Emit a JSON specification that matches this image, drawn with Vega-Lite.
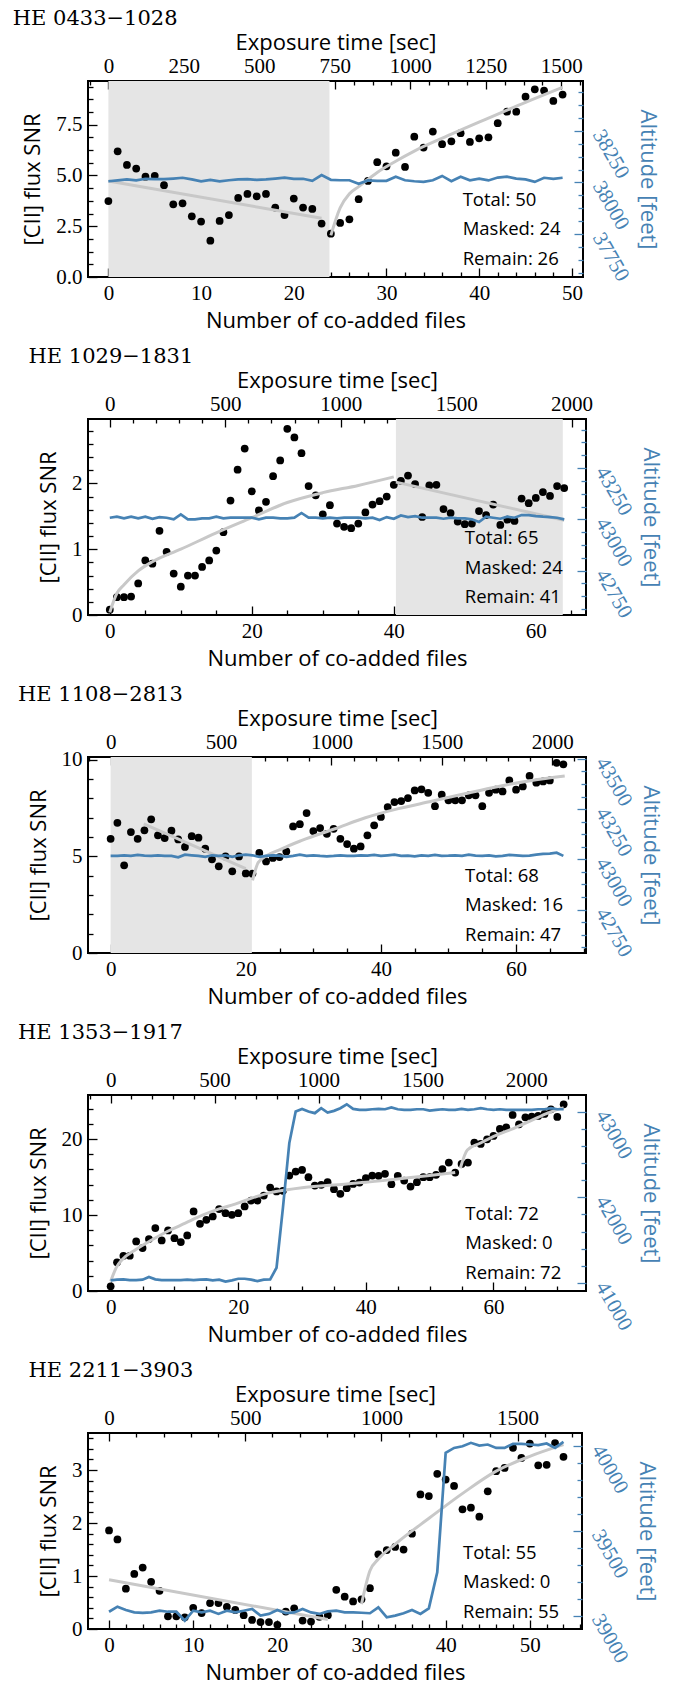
{
 "$schema": "https://vega.github.io/schema/vega-lite/v6.json",
 "background": "white",
 "padding": {"left": 11, "top": 6, "right": 4, "bottom": 2},
 "spacing": 12,
 "datasets": {
  "p1": [
   {"n":0,"snr":3.74,"alt":38006},{"n":1,"snr":6.19,"alt":38010},{"n":2,"snr":5.52,"alt":38015},{"n":3,"snr":5.34,"alt":38010},{"n":4,"snr":4.94,"alt":38018},
   {"n":5,"snr":4.98,"alt":38016},{"n":6,"snr":4.52,"alt":38016},{"n":7,"snr":3.58,"alt":38019},{"n":8,"snr":3.63,"alt":38023},{"n":9,"snr":2.99,"alt":38015},
   {"n":10,"snr":2.73,"alt":38006},{"n":11,"snr":1.79,"alt":38013},{"n":12,"snr":2.76,"alt":38006},{"n":13,"snr":3.05,"alt":38011},{"n":14,"snr":3.89,"alt":38015},
   {"n":15,"snr":4.09,"alt":38016},{"n":16,"snr":3.97,"alt":38013},{"n":17,"snr":4.09,"alt":38015},{"n":18,"snr":3.42,"alt":38019},{"n":19,"snr":3.05,"alt":38024},
   {"n":20,"snr":3.86,"alt":38018},{"n":21,"snr":3.42,"alt":38018},{"n":22,"snr":3.35,"alt":38008},{"n":23,"snr":2.63,"alt":38036},{"n":24,"snr":2.13,"alt":38013},
   {"n":25,"snr":2.66,"alt":38011},{"n":26,"snr":2.84,"alt":38011},{"n":27,"snr":3.83,"alt":37994},{"n":28,"snr":4.73,"alt":38010},{"n":29,"snr":5.65,"alt":38008},
   {"n":30,"snr":5.45,"alt":38008},{"n":31,"snr":6.12,"alt":38028},{"n":32,"snr":5.42,"alt":38011},{"n":33,"snr":6.91,"alt":38006},{"n":34,"snr":6.37,"alt":38003},
   {"n":35,"snr":7.16,"alt":38011},{"n":36,"snr":6.54,"alt":38032},{"n":37,"snr":6.68,"alt":38006},{"n":38,"snr":7.08,"alt":38028},{"n":39,"snr":6.65,"alt":38011},
   {"n":40,"snr":6.83,"alt":38019},{"n":41,"snr":6.88,"alt":38010},{"n":42,"snr":7.57,"alt":38024},{"n":43,"snr":8.14,"alt":38028},{"n":44,"snr":8.14,"alt":38019},
   {"n":45,"snr":8.88,"alt":38015},{"n":46,"snr":9.24,"alt":38003},{"n":47,"snr":9.18,"alt":38023},{"n":48,"snr":8.67,"alt":38018},{"n":49,"snr":8.98,"alt":38023}
  ],
  "p1fit": [
   {"n":0,"fit":4.73,"seg":"a"},{"n":23,"fit":2.89,"seg":"a"},
   {"n":24,"fit":2.05,"seg":"b"},{"n":25,"fit":3.4,"seg":"b"},{"n":26,"fit":4.1,"seg":"b"},{"n":27,"fit":4.45,"seg":"b"},{"n":29,"fit":5.15,"seg":"b"},
   {"n":31,"fit":5.7,"seg":"b"},{"n":33,"fit":6.2,"seg":"b"},{"n":37,"fit":7.03,"seg":"b"},{"n":41,"fit":7.82,"seg":"b"},{"n":45,"fit":8.6,"seg":"b"},{"n":49,"fit":9.34,"seg":"b"}
  ],
  "p2": [
   {"n":0,"snr":0.08,"alt":43008},{"n":1,"snr":0.27,"alt":43013},{"n":2,"snr":0.27,"alt":43005},{"n":3,"snr":0.28,"alt":43013},{"n":4,"snr":0.48,"alt":43005},
   {"n":5,"snr":0.83,"alt":43013},{"n":6,"snr":0.78,"alt":43003},{"n":7,"snr":1.28,"alt":43011},{"n":8,"snr":0.96,"alt":43008},{"n":9,"snr":0.63,"alt":43000},
   {"n":10,"snr":0.43,"alt":43024},{"n":11,"snr":0.60,"alt":43000},{"n":12,"snr":0.60,"alt":43000},{"n":13,"snr":0.73,"alt":43005},{"n":14,"snr":0.83,"alt":43005},
   {"n":15,"snr":0.98,"alt":43013},{"n":16,"snr":1.26,"alt":43005},{"n":17,"snr":1.74,"alt":43008},{"n":18,"snr":2.21,"alt":43008},{"n":19,"snr":2.53,"alt":43008},
   {"n":20,"snr":1.88,"alt":43008},{"n":21,"snr":1.59,"alt":43000},{"n":22,"snr":1.72,"alt":43008},{"n":23,"snr":2.11,"alt":43008},{"n":24,"snr":2.35,"alt":43005},
   {"n":25,"snr":2.83,"alt":43005},{"n":26,"snr":2.70,"alt":43008},{"n":27,"snr":2.46,"alt":43031},{"n":28,"snr":1.96,"alt":43008},{"n":29,"snr":1.82,"alt":43008},
   {"n":30,"snr":1.53,"alt":43005},{"n":31,"snr":1.67,"alt":43008},{"n":32,"snr":1.39,"alt":43005},{"n":33,"snr":1.34,"alt":43008},{"n":34,"snr":1.32,"alt":43008},
   {"n":35,"snr":1.39,"alt":43008},{"n":36,"snr":1.56,"alt":43005},{"n":37,"snr":1.68,"alt":43008},{"n":38,"snr":1.73,"alt":42997},{"n":39,"snr":1.80,"alt":43011},
   {"n":40,"snr":1.98,"alt":43003},{"n":41,"snr":2.04,"alt":43019},{"n":42,"snr":2.12,"alt":43011},{"n":43,"snr":1.99,"alt":43016},{"n":44,"snr":1.49,"alt":43008},
   {"n":45,"snr":1.97,"alt":43008},{"n":46,"snr":1.98,"alt":43008},{"n":47,"snr":1.61,"alt":43003},{"n":48,"snr":1.55,"alt":43008},{"n":49,"snr":1.42,"alt":43005},
   {"n":50,"snr":1.38,"alt":43005},{"n":51,"snr":1.39,"alt":43000},{"n":52,"snr":1.58,"alt":42987},{"n":53,"snr":1.52,"alt":43013},{"n":54,"snr":1.68,"alt":43008},
   {"n":55,"snr":1.37,"alt":43003},{"n":56,"snr":1.45,"alt":43013},{"n":57,"snr":1.43,"alt":43008},{"n":58,"snr":1.77,"alt":43021},{"n":59,"snr":1.70,"alt":43021},
   {"n":60,"snr":1.78,"alt":43016},{"n":61,"snr":1.87,"alt":43013},{"n":62,"snr":1.81,"alt":43011},{"n":63,"snr":1.96,"alt":43008},{"n":64,"snr":1.93,"alt":43000}
  ],
  "p2fit": [
   {"n":0,"fit":0.04,"seg":"a"},{"n":1,"fit":0.33,"seg":"a"},{"n":2,"fit":0.46,"seg":"a"},{"n":4,"fit":0.67,"seg":"a"},{"n":6,"fit":0.81,"seg":"a"},
   {"n":10,"fit":1.0,"seg":"a"},{"n":15,"fit":1.25,"seg":"a"},{"n":20,"fit":1.48,"seg":"a"},{"n":25,"fit":1.71,"seg":"a"},{"n":30,"fit":1.86,"seg":"a"},
   {"n":35,"fit":1.97,"seg":"a"},{"n":40,"fit":2.1,"seg":"a"},
   {"n":40.3,"fit":2.02,"seg":"b"},{"n":64,"fit":1.44,"seg":"b"}
  ],
  "p3": [
   {"n":0,"snr":5.90,"alt":43017},{"n":1,"snr":6.73,"alt":43017},{"n":2,"snr":4.53,"alt":43020},{"n":3,"snr":6.25,"alt":43017},{"n":4,"snr":5.90,"alt":43022},
   {"n":5,"snr":6.34,"alt":43018},{"n":6,"snr":6.91,"alt":43017},{"n":7,"snr":6.08,"alt":43020},{"n":8,"snr":5.94,"alt":43017},{"n":9,"snr":6.32,"alt":43017},
   {"n":10,"snr":5.87,"alt":43010},{"n":11,"snr":5.48,"alt":43023},{"n":12,"snr":6.04,"alt":43020},{"n":13,"snr":5.96,"alt":43017},{"n":14,"snr":5.39,"alt":43012},
   {"n":15,"snr":4.84,"alt":43020},{"n":16,"snr":4.48,"alt":43017},{"n":17,"snr":4.99,"alt":43020},{"n":18,"snr":4.22,"alt":43012},{"n":19,"snr":4.99,"alt":43020},
   {"n":20,"snr":4.11,"alt":43023},{"n":21,"snr":4.10,"alt":43020},{"n":22,"snr":5.17,"alt":43012},{"n":23,"snr":4.73,"alt":43017},{"n":24,"snr":4.91,"alt":43020},
   {"n":25,"snr":4.96,"alt":43018},{"n":26,"snr":5.25,"alt":43012},{"n":27,"snr":6.54,"alt":43017},{"n":28,"snr":6.66,"alt":43023},{"n":29,"snr":7.23,"alt":43017},
   {"n":30,"snr":6.30,"alt":43020},{"n":31,"snr":6.46,"alt":43017},{"n":32,"snr":6.16,"alt":43015},{"n":33,"snr":6.42,"alt":43017},{"n":34,"snr":5.90,"alt":43020},
   {"n":35,"snr":5.63,"alt":43017},{"n":36,"snr":5.39,"alt":43017},{"n":37,"snr":5.51,"alt":43020},{"n":38,"snr":6.08,"alt":43018},{"n":39,"snr":6.60,"alt":43022},
   {"n":40,"snr":7.03,"alt":43017},{"n":41,"snr":7.54,"alt":43020},{"n":42,"snr":7.80,"alt":43023},{"n":43,"snr":7.85,"alt":43017},{"n":44,"snr":8.01,"alt":43018},
   {"n":45,"snr":8.40,"alt":43015},{"n":46,"snr":8.46,"alt":43020},{"n":47,"snr":8.28,"alt":43017},{"n":48,"snr":7.59,"alt":43022},{"n":49,"snr":8.18,"alt":43017},
   {"n":50,"snr":7.89,"alt":43018},{"n":51,"snr":7.89,"alt":43020},{"n":52,"snr":7.89,"alt":43017},{"n":53,"snr":8.15,"alt":43023},{"n":54,"snr":8.15,"alt":43018},
   {"n":55,"snr":7.59,"alt":43017},{"n":56,"snr":8.28,"alt":43020},{"n":57,"snr":8.44,"alt":43015},{"n":58,"snr":8.35,"alt":43017},{"n":59,"snr":8.92,"alt":43022},
   {"n":60,"snr":8.44,"alt":43020},{"n":61,"snr":8.61,"alt":43017},{"n":62,"snr":9.15,"alt":43018},{"n":63,"snr":8.80,"alt":43023},{"n":64,"snr":8.87,"alt":43027},
   {"n":65,"snr":8.92,"alt":43028},{"n":66,"snr":9.83,"alt":43033},{"n":67,"snr":9.75,"alt":43017}
  ],
  "p3fit": [
   {"n":4.9,"fit":6.68,"seg":"a"},{"n":20,"fit":4.36,"seg":"a"},
   {"n":21,"fit":3.75,"seg":"b"},{"n":21.9,"fit":4.7,"seg":"b"},{"n":25.4,"fit":5.39,"seg":"b"},{"n":28.3,"fit":5.82,"seg":"b"},{"n":33.2,"fit":6.42,"seg":"b"},
   {"n":37.7,"fit":6.99,"seg":"b"},{"n":42.6,"fit":7.46,"seg":"b"},{"n":47.5,"fit":7.84,"seg":"b"},{"n":52.4,"fit":8.23,"seg":"b"},{"n":57.4,"fit":8.61,"seg":"b"},
   {"n":62.3,"fit":8.92,"seg":"b"},{"n":67.2,"fit":9.15,"seg":"b"}
  ],
  "p4": [
   {"n":0,"snr":0.61,"alt":41031},{"n":1,"snr":3.77,"alt":41039},{"n":2,"snr":4.64,"alt":41043},{"n":3,"snr":4.64,"alt":41035},{"n":4,"snr":6.53,"alt":41035},
   {"n":5,"snr":5.65,"alt":41039},{"n":6,"snr":6.83,"alt":41070},{"n":7,"snr":8.28,"alt":41043},{"n":8,"snr":6.66,"alt":41035},{"n":9,"snr":7.97,"alt":41035},
   {"n":10,"snr":6.96,"alt":41035},{"n":11,"snr":6.44,"alt":41035},{"n":12,"snr":7.31,"alt":41039},{"n":13,"snr":10.47,"alt":41035},{"n":14,"snr":8.85,"alt":41039},
   {"n":15,"snr":9.37,"alt":41043},{"n":16,"snr":9.81,"alt":41031},{"n":17,"snr":10.78,"alt":41039},{"n":18,"snr":10.25,"alt":41016},{"n":19,"snr":10.03,"alt":41031},
   {"n":20,"snr":10.25,"alt":41050},{"n":21,"snr":11.13,"alt":41050},{"n":22,"snr":11.91,"alt":41039},{"n":23,"snr":11.91,"alt":41023},{"n":24,"snr":12.57,"alt":41039},
   {"n":25,"snr":13.62,"alt":41043},{"n":26,"snr":13.10,"alt":41178},{"n":27,"snr":13.18,"alt":41876},{"n":28,"snr":15.20,"alt":42632},{"n":29,"snr":15.72,"alt":43000},
   {"n":30,"snr":15.94,"alt":43031},{"n":31,"snr":14.98,"alt":43000},{"n":32,"snr":13.88,"alt":42981},{"n":33,"snr":13.97,"alt":43039},{"n":34,"snr":14.32,"alt":42988},
   {"n":35,"snr":13.40,"alt":43008},{"n":36,"snr":12.79,"alt":43039},{"n":37,"snr":13.53,"alt":43085},{"n":38,"snr":14.10,"alt":43031},{"n":39,"snr":14.28,"alt":43019},
   {"n":40,"snr":14.85,"alt":43019},{"n":41,"snr":15.20,"alt":43027},{"n":42,"snr":15.16,"alt":43031},{"n":43,"snr":15.42,"alt":43027},{"n":44,"snr":14.06,"alt":43047},
   {"n":45,"snr":15.16,"alt":43027},{"n":46,"snr":14.54,"alt":43019},{"n":47,"snr":13.75,"alt":43019},{"n":48,"snr":14.32,"alt":43027},{"n":49,"snr":14.98,"alt":43027},
   {"n":50,"snr":14.98,"alt":43012},{"n":51,"snr":15.29,"alt":43019},{"n":52,"snr":16.03,"alt":43027},{"n":53,"snr":16.91,"alt":43019},{"n":54,"snr":15.59,"alt":43019},
   {"n":55,"snr":16.73,"alt":43031},{"n":56,"snr":16.91,"alt":43019},{"n":57,"snr":19.54,"alt":43027},{"n":58,"snr":19.36,"alt":43039},{"n":59,"snr":19.97,"alt":43027},
   {"n":60,"snr":20.41,"alt":43019},{"n":61,"snr":21.33,"alt":43027},{"n":62,"snr":21.55,"alt":43019},{"n":63,"snr":23.17,"alt":43019},{"n":64,"snr":21.94,"alt":43019},
   {"n":65,"snr":22.86,"alt":43019},{"n":66,"snr":22.95,"alt":43019},{"n":67,"snr":23.04,"alt":43027},{"n":68,"snr":23.30,"alt":43027},{"n":69,"snr":23.92,"alt":43039},
   {"n":70,"snr":22.91,"alt":43027},{"n":71,"snr":24.57,"alt":43027}
  ],
  "p4fit": [
   {"n":0,"fit":1.27,"seg":"a"},{"n":0.9,"fit":3.11,"seg":"a"},{"n":1.8,"fit":4.12,"seg":"a"},{"n":3.9,"fit":5.43,"seg":"a"},{"n":6.5,"fit":6.74,"seg":"a"},
   {"n":9.1,"fit":7.93,"seg":"a"},{"n":11.7,"fit":8.93,"seg":"a"},{"n":14.3,"fit":9.94,"seg":"a"},{"n":16.9,"fit":10.77,"seg":"a"},{"n":19.5,"fit":11.43,"seg":"a"},
   {"n":22.1,"fit":12.22,"seg":"a"},{"n":24.7,"fit":12.88,"seg":"a"},{"n":27.4,"fit":13.3,"seg":"a"},{"n":30,"fit":13.6,"seg":"a"},{"n":35,"fit":13.95,"seg":"a"},
   {"n":40,"fit":14.3,"seg":"a"},{"n":45,"fit":14.75,"seg":"a"},{"n":50,"fit":15.2,"seg":"a"},{"n":54,"fit":15.6,"seg":"a"},
   {"n":54.8,"fit":16.16,"seg":"b"},{"n":55.9,"fit":18.57,"seg":"b"},{"n":57.9,"fit":19.45,"seg":"b"},{"n":60.6,"fit":20.54,"seg":"b"},{"n":63.2,"fit":21.42,"seg":"b"},
   {"n":65.8,"fit":22.38,"seg":"b"},{"n":68.4,"fit":23.39,"seg":"b"},{"n":71,"fit":24.13,"seg":"b"}
  ],
  "p5": [
   {"n":0,"snr":1.86,"alt":39023},{"n":1,"snr":1.69,"alt":39053},{"n":2,"snr":0.76,"alt":39033},{"n":3,"snr":1.04,"alt":39019},{"n":4,"snr":1.16,"alt":39016},
   {"n":5,"snr":0.89,"alt":39019},{"n":6,"snr":0.72,"alt":39029},{"n":7,"snr":0.24,"alt":39023},{"n":8,"snr":0.24,"alt":39023},{"n":9,"snr":0.22,"alt":38970},
   {"n":10,"snr":0.40,"alt":39029},{"n":11,"snr":0.30,"alt":39019},{"n":12,"snr":0.49,"alt":39029},{"n":13,"snr":0.49,"alt":39010},{"n":14,"snr":0.42,"alt":39029},
   {"n":15,"snr":0.36,"alt":39019},{"n":16,"snr":0.26,"alt":39029},{"n":17,"snr":0.17,"alt":39039},{"n":18,"snr":0.13,"alt":39000},{"n":19,"snr":0.13,"alt":39010},
   {"n":20,"snr":0.08,"alt":39033},{"n":21,"snr":0.33,"alt":39014},{"n":22,"snr":0.39,"alt":39019},{"n":23,"snr":0.16,"alt":39039},{"n":24,"snr":0.14,"alt":39019},
   {"n":25,"snr":0.23,"alt":39010},{"n":26,"snr":0.26,"alt":39025},{"n":27,"snr":0.74,"alt":39029},{"n":28,"snr":0.61,"alt":39019},{"n":29,"snr":0.52,"alt":39019},
   {"n":30,"snr":0.56,"alt":39017},{"n":31,"snr":0.77,"alt":39014},{"n":32,"snr":1.41,"alt":39049},{"n":33,"snr":1.49,"alt":38990},{"n":34,"snr":1.55,"alt":39000},
   {"n":35,"snr":1.50,"alt":39014},{"n":36,"snr":1.80,"alt":39033},{"n":37,"snr":2.54,"alt":39010},{"n":38,"snr":2.51,"alt":39043},{"n":39,"snr":2.93,"alt":39255},
   {"n":40,"snr":2.82,"alt":39961},{"n":41,"snr":2.70,"alt":39990},{"n":42,"snr":2.26,"alt":40000},{"n":43,"snr":2.29,"alt":40020},{"n":44,"snr":2.12,"alt":40004},
   {"n":45,"snr":2.60,"alt":40010},{"n":46,"snr":2.98,"alt":39990},{"n":47,"snr":3.04,"alt":39990},{"n":48,"snr":3.42,"alt":40014},{"n":49,"snr":3.23,"alt":40014},
   {"n":50,"snr":3.50,"alt":40010},{"n":51,"snr":3.09,"alt":40006},{"n":52,"snr":3.10,"alt":40016},{"n":53,"snr":3.51,"alt":39990},{"n":54,"snr":3.25,"alt":40025}
  ],
  "p5fit": [
   {"n":0,"fit":0.93,"seg":"a"},{"n":26,"fit":0.18,"seg":"a"},
   {"n":30,"fit":0.47,"seg":"b"},{"n":31,"fit":1.10,"seg":"b"},{"n":32,"fit":1.32,"seg":"b"},{"n":34,"fit":1.60,"seg":"b"},{"n":38.1,"fit":2.10,"seg":"b"},
   {"n":42.1,"fit":2.57,"seg":"b"},{"n":46,"fit":2.98,"seg":"b"},{"n":50,"fit":3.26,"seg":"b"},{"n":54,"fit":3.48,"seg":"b"}
  ]
 },
 "vconcat": [
  {
   "title": {"text": "HE 0433−1028"},
   "width": 495, "height": 196,
   "layer": [
    {"data": {"values": [{"n": 0, "n_end": 23.85}]}, "mark": {"type": "rect", "color": "#e5e5e5"},
     "encoding": {"x": {"field": "n", "type": "quantitative", "scale": {"domain": [-2.2, 51.2], "nice": false, "zero": false}, "axis": null}, "x2": {"field": "n_end"},
      "y": {"datum": 0, "type": "quantitative", "scale": {"domain": [0, 9.65], "nice": false, "zero": false}, "axis": null}, "y2": {"datum": 9.65}}},
    {"data": {"name": "p1"}, "mark": {"type": "circle", "color": "black", "size": 60, "opacity": 1},
     "encoding": {
      "x": {"field": "n", "type": "quantitative", "scale": {"domain": [-2.2, 51.2], "nice": false, "zero": false},
       "axis": {"orient": "bottom", "title": "Number of co-added files", "values": [0,2,4,6,8,10,12,14,16,18,20,22,24,26,28,30,32,34,36,38,40,42,44,46,48,50], "labelOverlap": false,
        "labelExpr": "datum.value % 10 === 0 ? format(datum.value,'d') : ''", "tickSize": {"condition": {"test": "datum.value % 10 === 0", "value": -9}, "value": -5}, "labelPadding": 14, "titlePadding": 3}},
      "y": {"field": "snr", "type": "quantitative", "scale": {"domain": [0, 9.65], "nice": false, "zero": false},
       "axis": {"orient": "left", "title": "[CII] flux SNR", "values": [0,0.625,1.25,1.875,2.5,3.125,3.75,4.375,5,5.625,6.25,6.875,7.5,8.125,8.75,9.375], "labelOverlap": false,
        "labelExpr": "datum.value % 2.5 === 0 ? format(datum.value,'.1f') : ''", "tickSize": {"condition": {"test": "datum.value % 2.5 === 0", "value": -9}, "value": -5}, "labelPadding": 15, "titlePadding": 11}}}},
    {"data": {"name": "p1fit"}, "mark": {"type": "line", "color": "#c8c8c8", "strokeWidth": 3, "interpolate": "monotone"},
     "encoding": {"x": {"field": "n", "type": "quantitative", "scale": {"domain": [-2.2, 51.2], "nice": false, "zero": false}, "axis": null},
      "y": {"field": "fit", "type": "quantitative", "scale": {"domain": [0, 9.65], "nice": false, "zero": false}, "axis": null}, "detail": {"field": "seg", "type": "nominal"}}},
    {"data": {"values": [{"k": 1}]}, "mark": {"type": "text", "text": ["Total:  50", "Masked:  24", "Remain:  26"], "align": "left", "baseline": "top", "lineHeight": 29.5, "font": "Open Sans", "fontSize": 18.5, "color": "black"},
     "encoding": {"x": {"datum": 38.22, "type": "quantitative", "scale": {"domain": [-2.2, 51.2], "nice": false, "zero": false}, "axis": null},
      "y": {"datum": 4.25, "type": "quantitative", "scale": {"domain": [0, 9.65], "nice": false, "zero": false}, "axis": null}}},
    {"data": {"name": "p1"}, "mark": {"type": "line", "color": "#4682b4", "strokeWidth": 2.7},
     "encoding": {"x": {"field": "n", "type": "quantitative", "scale": {"domain": [-2.2, 51.2], "nice": false, "zero": false}, "axis": null},
      "y": {"field": "alt", "type": "quantitative", "scale": {"domain": [37541, 38493], "nice": false, "zero": false},
       "axis": {"orient": "right", "title": "Altitude [feet]", "values": [37562.5,37625,37687.5,37750,37812.5,37875,37937.5,38000,38062.5,38125,38187.5,38250,38312.5,38375,38437.5], "labelOverlap": false,
        "labelExpr": "datum.value % 250 === 0 ? format(datum.value,'d') : ''", "tickSize": {"condition": {"test": "datum.value % 250 === 0", "value": -9}, "value": -5},
        "labelPadding": 23, "labelAngle": 60, "labelAlign": "left", "labelBaseline": "middle", "labelColor": "#4682b4", "tickColor": "#4682b4", "titleColor": "#4682b4", "titlePadding": 3}}}},
    {"data": {"values": [{"k": 1}]}, "mark": {"type": "point", "opacity": 0},
     "encoding": {"x": {"datum": 0, "type": "quantitative", "scale": {"domain": [-67.5, 1571.8], "nice": false, "zero": false},
      "axis": {"orient": "top", "title": "Exposure time [sec]", "values": [-62.5,0,62.5,125,187.5,250,312.5,375,437.5,500,562.5,625,687.5,750,812.5,875,937.5,1000,1062.5,1125,1187.5,1250,1312.5,1375,1437.5,1500,1562.5], "labelOverlap": false,
       "labelExpr": "datum.value % 250 === 0 ? format(datum.value,'d') : ''", "tickSize": {"condition": {"test": "datum.value % 250 === 0", "value": -8}, "value": -4}, "labelPadding": 12.5, "titlePadding": -3}}}}
   ],
   "resolve": {"scale": {"x": "independent", "y": "independent"}}
  },
  {
   "title": {"text": "HE 1029−1831"},
   "width": 498, "height": 196,
   "layer": [
    {"data": {"values": [{"n": 40.3, "n_end": 63.8}]}, "mark": {"type": "rect", "color": "#e5e5e5"},
     "encoding": {"x": {"field": "n", "type": "quantitative", "scale": {"domain": [-3.07, 67.07], "nice": false, "zero": false}, "axis": null}, "x2": {"field": "n_end"},
      "y": {"datum": 0, "type": "quantitative", "scale": {"domain": [0, 2.98], "nice": false, "zero": false}, "axis": null}, "y2": {"datum": 2.98}}},
    {"data": {"name": "p2"}, "mark": {"type": "circle", "color": "black", "size": 60, "opacity": 1},
     "encoding": {
      "x": {"field": "n", "type": "quantitative", "scale": {"domain": [-3.07, 67.07], "nice": false, "zero": false},
       "axis": {"orient": "bottom", "title": "Number of co-added files", "values": [0,5,10,15,20,25,30,35,40,45,50,55,60,65], "labelOverlap": false,
        "labelExpr": "datum.value % 20 === 0 ? format(datum.value,'d') : ''", "tickSize": {"condition": {"test": "datum.value % 20 === 0", "value": -9}, "value": -5}, "labelPadding": 14, "titlePadding": 3}},
      "y": {"field": "snr", "type": "quantitative", "scale": {"domain": [0, 2.98], "nice": false, "zero": false},
       "axis": {"orient": "left", "title": "[CII] flux SNR", "values": [0,0.2,0.4,0.6,0.8,1,1.2,1.4,1.6,1.8,2,2.2,2.4,2.6,2.8], "labelOverlap": false,
        "labelExpr": "abs(datum.value - round(datum.value)) < 0.001 ? format(datum.value,'d') : ''", "tickSize": {"condition": {"test": "abs(datum.value - round(datum.value)) < 0.001", "value": -9}, "value": -5}, "labelPadding": 15, "titlePadding": 11}}}},
    {"data": {"name": "p2fit"}, "mark": {"type": "line", "color": "#c8c8c8", "strokeWidth": 3, "interpolate": "monotone"},
     "encoding": {"x": {"field": "n", "type": "quantitative", "scale": {"domain": [-3.07, 67.07], "nice": false, "zero": false}, "axis": null},
      "y": {"field": "fit", "type": "quantitative", "scale": {"domain": [0, 2.98], "nice": false, "zero": false}, "axis": null}, "detail": {"field": "seg", "type": "nominal"}}},
    {"data": {"values": [{"k": 1}]}, "mark": {"type": "text", "text": ["Total:  65", "Masked:  24", "Remain:  41"], "align": "left", "baseline": "top", "lineHeight": 29.5, "font": "Open Sans", "fontSize": 18.5, "color": "black"},
     "encoding": {"x": {"datum": 50.0, "type": "quantitative", "scale": {"domain": [-3.07, 67.07], "nice": false, "zero": false}, "axis": null},
      "y": {"datum": 1.30, "type": "quantitative", "scale": {"domain": [0, 2.98], "nice": false, "zero": false}, "axis": null}}},
    {"data": {"name": "p2"}, "mark": {"type": "line", "color": "#4682b4", "strokeWidth": 2.7},
     "encoding": {"x": {"field": "n", "type": "quantitative", "scale": {"domain": [-3.07, 67.07], "nice": false, "zero": false}, "axis": null},
      "y": {"field": "alt", "type": "quantitative", "scale": {"domain": [42534, 43489], "nice": false, "zero": false},
       "axis": {"orient": "right", "title": "Altitude [feet]", "values": [42562.5,42625,42687.5,42750,42812.5,42875,42937.5,43000,43062.5,43125,43187.5,43250,43312.5,43375,43437.5], "labelOverlap": false,
        "labelExpr": "datum.value % 250 === 0 ? format(datum.value,'d') : ''", "tickSize": {"condition": {"test": "datum.value % 250 === 0", "value": -9}, "value": -5},
        "labelPadding": 23, "labelAngle": 60, "labelAlign": "left", "labelBaseline": "middle", "labelColor": "#4682b4", "tickColor": "#4682b4", "titleColor": "#4682b4", "titlePadding": 3}}}},
    {"data": {"values": [{"k": 1}]}, "mark": {"type": "point", "opacity": 0},
     "encoding": {"x": {"datum": 0, "type": "quantitative", "scale": {"domain": [-94.4, 2062.4], "nice": false, "zero": false},
      "axis": {"orient": "top", "title": "Exposure time [sec]", "values": [0,100,200,300,400,500,600,700,800,900,1000,1100,1200,1300,1400,1500,1600,1700,1800,1900,2000], "labelOverlap": false,
       "labelExpr": "datum.value % 500 === 0 ? format(datum.value,'d') : ''", "tickSize": {"condition": {"test": "datum.value % 500 === 0", "value": -8}, "value": -4}, "labelPadding": 12.5, "titlePadding": -3}}}}
   ],
   "resolve": {"scale": {"x": "independent", "y": "independent"}}
  },
  {
   "title": {"text": "HE 1108−2813"},
   "width": 498, "height": 196,
   "layer": [
    {"data": {"values": [{"n": 0, "n_end": 20.9}]}, "mark": {"type": "rect", "color": "#e5e5e5"},
     "encoding": {"x": {"field": "n", "type": "quantitative", "scale": {"domain": [-3.35, 70.35], "nice": false, "zero": false}, "axis": null}, "x2": {"field": "n_end"},
      "y": {"datum": 0, "type": "quantitative", "scale": {"domain": [0, 10.13], "nice": false, "zero": false}, "axis": null}, "y2": {"datum": 10.13}}},
    {"data": {"name": "p3"}, "mark": {"type": "circle", "color": "black", "size": 60, "opacity": 1},
     "encoding": {
      "x": {"field": "n", "type": "quantitative", "scale": {"domain": [-3.35, 70.35], "nice": false, "zero": false},
       "axis": {"orient": "bottom", "title": "Number of co-added files", "values": [0,5,10,15,20,25,30,35,40,45,50,55,60,65,70], "labelOverlap": false,
        "labelExpr": "datum.value % 20 === 0 ? format(datum.value,'d') : ''", "tickSize": {"condition": {"test": "datum.value % 20 === 0", "value": -9}, "value": -5}, "labelPadding": 14, "titlePadding": 3}},
      "y": {"field": "snr", "type": "quantitative", "scale": {"domain": [0, 10.13], "nice": false, "zero": false},
       "axis": {"orient": "left", "title": "[CII] flux SNR", "values": [0,1,2,3,4,5,6,7,8,9,10], "labelOverlap": false,
        "labelExpr": "datum.value % 5 === 0 ? format(datum.value,'d') : ''", "tickSize": {"condition": {"test": "datum.value % 5 === 0", "value": -9}, "value": -5}, "labelPadding": 15, "titlePadding": 11}}}},
    {"data": {"name": "p3fit"}, "mark": {"type": "line", "color": "#c8c8c8", "strokeWidth": 3, "interpolate": "monotone"},
     "encoding": {"x": {"field": "n", "type": "quantitative", "scale": {"domain": [-3.35, 70.35], "nice": false, "zero": false}, "axis": null},
      "y": {"field": "fit", "type": "quantitative", "scale": {"domain": [0, 10.13], "nice": false, "zero": false}, "axis": null}, "detail": {"field": "seg", "type": "nominal"}}},
    {"data": {"values": [{"k": 1}]}, "mark": {"type": "text", "text": ["Total:  68", "Masked:  16", "Remain:  47"], "align": "left", "baseline": "top", "lineHeight": 29.5, "font": "Open Sans", "fontSize": 18.5, "color": "black"},
     "encoding": {"x": {"datum": 52.46, "type": "quantitative", "scale": {"domain": [-3.35, 70.35], "nice": false, "zero": false}, "axis": null},
      "y": {"datum": 4.46, "type": "quantitative", "scale": {"domain": [0, 10.13], "nice": false, "zero": false}, "axis": null}}},
    {"data": {"name": "p3"}, "mark": {"type": "line", "color": "#4682b4", "strokeWidth": 2.7},
     "encoding": {"x": {"field": "n", "type": "quantitative", "scale": {"domain": [-3.35, 70.35], "nice": false, "zero": false}, "axis": null},
      "y": {"field": "alt", "type": "quantitative", "scale": {"domain": [42534, 43509], "nice": false, "zero": false},
       "axis": {"orient": "right", "title": "Altitude [feet]", "values": [42562.5,42625,42687.5,42750,42812.5,42875,42937.5,43000,43062.5,43125,43187.5,43250,43312.5,43375,43437.5,43500], "labelOverlap": false,
        "labelExpr": "datum.value % 250 === 0 ? format(datum.value,'d') : ''", "tickSize": {"condition": {"test": "datum.value % 250 === 0", "value": -9}, "value": -5},
        "labelPadding": 23, "labelAngle": 60, "labelAlign": "left", "labelBaseline": "middle", "labelColor": "#4682b4", "tickColor": "#4682b4", "titleColor": "#4682b4", "titlePadding": 3}}}},
    {"data": {"values": [{"k": 1}]}, "mark": {"type": "point", "opacity": 0},
     "encoding": {"x": {"datum": 0, "type": "quantitative", "scale": {"domain": [-102.5, 2152.7], "nice": false, "zero": false},
      "axis": {"orient": "top", "title": "Exposure time [sec]", "values": [-100,0,100,200,300,400,500,600,700,800,900,1000,1100,1200,1300,1400,1500,1600,1700,1800,1900,2000,2100], "labelOverlap": false,
       "labelExpr": "datum.value % 500 === 0 ? format(datum.value,'d') : ''", "tickSize": {"condition": {"test": "datum.value % 500 === 0", "value": -8}, "value": -4}, "labelPadding": 12.5, "titlePadding": -3}}}}
   ],
   "resolve": {"scale": {"x": "independent", "y": "independent"}}
  },
  {
   "title": {"text": "HE 1353−1917"},
   "width": 498, "height": 196,
   "layer": [
    {"data": {"name": "p4"}, "mark": {"type": "circle", "color": "black", "size": 60, "opacity": 1},
     "encoding": {
      "x": {"field": "n", "type": "quantitative", "scale": {"domain": [-3.55, 74.5], "nice": false, "zero": false},
       "axis": {"orient": "bottom", "title": "Number of co-added files", "values": [0,5,10,15,20,25,30,35,40,45,50,55,60,65,70], "labelOverlap": false,
        "labelExpr": "datum.value % 20 === 0 ? format(datum.value,'d') : ''", "tickSize": {"condition": {"test": "datum.value % 20 === 0", "value": -9}, "value": -5}, "labelPadding": 14, "titlePadding": 3}},
      "y": {"field": "snr", "type": "quantitative", "scale": {"domain": [0, 25.8], "nice": false, "zero": false},
       "axis": {"orient": "left", "title": "[CII] flux SNR", "values": [0,2,4,6,8,10,12,14,16,18,20,22,24], "labelOverlap": false,
        "labelExpr": "datum.value % 10 === 0 ? format(datum.value,'d') : ''", "tickSize": {"condition": {"test": "datum.value % 10 === 0", "value": -9}, "value": -5}, "labelPadding": 15, "titlePadding": 11}}}},
    {"data": {"name": "p4fit"}, "mark": {"type": "line", "color": "#c8c8c8", "strokeWidth": 3, "interpolate": "monotone"},
     "encoding": {"x": {"field": "n", "type": "quantitative", "scale": {"domain": [-3.55, 74.5], "nice": false, "zero": false}, "axis": null},
      "y": {"field": "fit", "type": "quantitative", "scale": {"domain": [0, 25.8], "nice": false, "zero": false}, "axis": null}, "detail": {"field": "seg", "type": "nominal"}}},
    {"data": {"values": [{"k": 1}]}, "mark": {"type": "text", "text": ["Total:  72", "Masked:  0", "Remain:  72"], "align": "left", "baseline": "top", "lineHeight": 29.5, "font": "Open Sans", "fontSize": 18.5, "color": "black"},
     "encoding": {"x": {"datum": 55.57, "type": "quantitative", "scale": {"domain": [-3.55, 74.5], "nice": false, "zero": false}, "axis": null},
      "y": {"datum": 11.38, "type": "quantitative", "scale": {"domain": [0, 25.8], "nice": false, "zero": false}, "axis": null}}},
    {"data": {"name": "p4"}, "mark": {"type": "line", "color": "#4682b4", "strokeWidth": 2.7},
     "encoding": {"x": {"field": "n", "type": "quantitative", "scale": {"domain": [-3.55, 74.5], "nice": false, "zero": false}, "axis": null},
      "y": {"field": "alt", "type": "quantitative", "scale": {"domain": [40907, 43193], "nice": false, "zero": false},
       "axis": {"orient": "right", "title": "Altitude [feet]", "values": [41000,41200,41400,41600,41800,42000,42200,42400,42600,42800,43000], "labelOverlap": false,
        "labelExpr": "datum.value % 1000 === 0 ? format(datum.value,'d') : ''", "tickSize": {"condition": {"test": "datum.value % 1000 === 0", "value": -9}, "value": -5},
        "labelPadding": 23, "labelAngle": 60, "labelAlign": "left", "labelBaseline": "middle", "labelColor": "#4682b4", "tickColor": "#4682b4", "titleColor": "#4682b4", "titlePadding": 3}}}},
    {"data": {"values": [{"k": 1}]}, "mark": {"type": "point", "opacity": 0},
     "encoding": {"x": {"datum": 0, "type": "quantitative", "scale": {"domain": [-109, 2287], "nice": false, "zero": false},
      "axis": {"orient": "top", "title": "Exposure time [sec]", "values": [-100,0,100,200,300,400,500,600,700,800,900,1000,1100,1200,1300,1400,1500,1600,1700,1800,1900,2000,2100,2200], "labelOverlap": false,
       "labelExpr": "datum.value % 500 === 0 ? format(datum.value,'d') : ''", "tickSize": {"condition": {"test": "datum.value % 500 === 0", "value": -8}, "value": -4}, "labelPadding": 12.5, "titlePadding": -3}}}}
   ],
   "resolve": {"scale": {"x": "independent", "y": "independent"}}
  },
  {
   "title": {"text": "HE 2211−3903"},
   "width": 494, "height": 196,
   "layer": [
    {"data": {"name": "p5"}, "mark": {"type": "circle", "color": "black", "size": 60, "opacity": 1},
     "encoding": {
      "x": {"field": "n", "type": "quantitative", "scale": {"domain": [-2.5, 56.2], "nice": false, "zero": false},
       "axis": {"orient": "bottom", "title": "Number of co-added files", "values": [0,2,4,6,8,10,12,14,16,18,20,22,24,26,28,30,32,34,36,38,40,42,44,46,48,50,52,54,56], "labelOverlap": false,
        "labelExpr": "datum.value % 10 === 0 ? format(datum.value,'d') : ''", "tickSize": {"condition": {"test": "datum.value % 10 === 0", "value": -9}, "value": -5}, "labelPadding": 14, "titlePadding": 3}},
      "y": {"field": "snr", "type": "quantitative", "scale": {"domain": [0, 3.7], "nice": false, "zero": false},
       "axis": {"orient": "left", "title": "[CII] flux SNR", "values": [0,0.2,0.4,0.6,0.8,1,1.2,1.4,1.6,1.8,2,2.2,2.4,2.6,2.8,3,3.2,3.4,3.6], "labelOverlap": false,
        "labelExpr": "abs(datum.value - round(datum.value)) < 0.001 ? format(datum.value,'d') : ''", "tickSize": {"condition": {"test": "abs(datum.value - round(datum.value)) < 0.001", "value": -9}, "value": -5}, "labelPadding": 15, "titlePadding": 11}}}},
    {"data": {"name": "p5fit"}, "mark": {"type": "line", "color": "#c8c8c8", "strokeWidth": 3, "interpolate": "monotone"},
     "encoding": {"x": {"field": "n", "type": "quantitative", "scale": {"domain": [-2.5, 56.2], "nice": false, "zero": false}, "axis": null},
      "y": {"field": "fit", "type": "quantitative", "scale": {"domain": [0, 3.7], "nice": false, "zero": false}, "axis": null}, "detail": {"field": "seg", "type": "nominal"}}},
    {"data": {"values": [{"k": 1}]}, "mark": {"type": "text", "text": ["Total:  55", "Masked:  0", "Remain:  55"], "align": "left", "baseline": "top", "lineHeight": 29.5, "font": "Open Sans", "fontSize": 18.5, "color": "black"},
     "encoding": {"x": {"datum": 42.06, "type": "quantitative", "scale": {"domain": [-2.5, 56.2], "nice": false, "zero": false}, "axis": null},
      "y": {"datum": 1.61, "type": "quantitative", "scale": {"domain": [0, 3.7], "nice": false, "zero": false}, "axis": null}}},
    {"data": {"name": "p5"}, "mark": {"type": "line", "color": "#4682b4", "strokeWidth": 2.7},
     "encoding": {"x": {"field": "n", "type": "quantitative", "scale": {"domain": [-2.5, 56.2], "nice": false, "zero": false}, "axis": null},
      "y": {"field": "alt", "type": "quantitative", "scale": {"domain": [38921, 40078], "nice": false, "zero": false},
       "axis": {"orient": "right", "title": "Altitude [feet]", "values": [39000,39100,39200,39300,39400,39500,39600,39700,39800,39900,40000], "labelOverlap": false,
        "labelExpr": "datum.value % 500 === 0 ? format(datum.value,'d') : ''", "tickSize": {"condition": {"test": "datum.value % 500 === 0", "value": -9}, "value": -5},
        "labelPadding": 23, "labelAngle": 60, "labelAlign": "left", "labelBaseline": "middle", "labelColor": "#4682b4", "tickColor": "#4682b4", "titleColor": "#4682b4", "titlePadding": 3}}}},
    {"data": {"values": [{"k": 1}]}, "mark": {"type": "point", "opacity": 0},
     "encoding": {"x": {"datum": 0, "type": "quantitative", "scale": {"domain": [-77.3, 1736.6], "nice": false, "zero": false},
      "axis": {"orient": "top", "title": "Exposure time [sec]", "values": [0,100,200,300,400,500,600,700,800,900,1000,1100,1200,1300,1400,1500,1600,1700], "labelOverlap": false,
       "labelExpr": "datum.value % 500 === 0 ? format(datum.value,'d') : ''", "tickSize": {"condition": {"test": "datum.value % 500 === 0", "value": -8}, "value": -4}, "labelPadding": 12.5, "titlePadding": -3}}}}
   ],
   "resolve": {"scale": {"x": "independent", "y": "independent"}}
  }
 ],
 "config": {
  "view": {"stroke": "black", "strokeWidth": 2},
  "axis": {"grid": false, "domain": false, "labelFont": "Liberation Serif", "labelFontSize": 21, "labelColor": "black",
   "titleFont": "Open Sans", "titleFontSize": 22, "titleFontWeight": "normal", "titleColor": "black",
   "tickColor": "black", "tickWidth": 1.3, "labelOverlap": false, "labelBound": false, "labelFlush": false},
  "title": {"font": "DejaVu Serif", "fontSize": 21, "fontWeight": "normal", "anchor": "start", "frame": "bounds", "color": "black", "offset": 3, "dx": -9}
 }
}
